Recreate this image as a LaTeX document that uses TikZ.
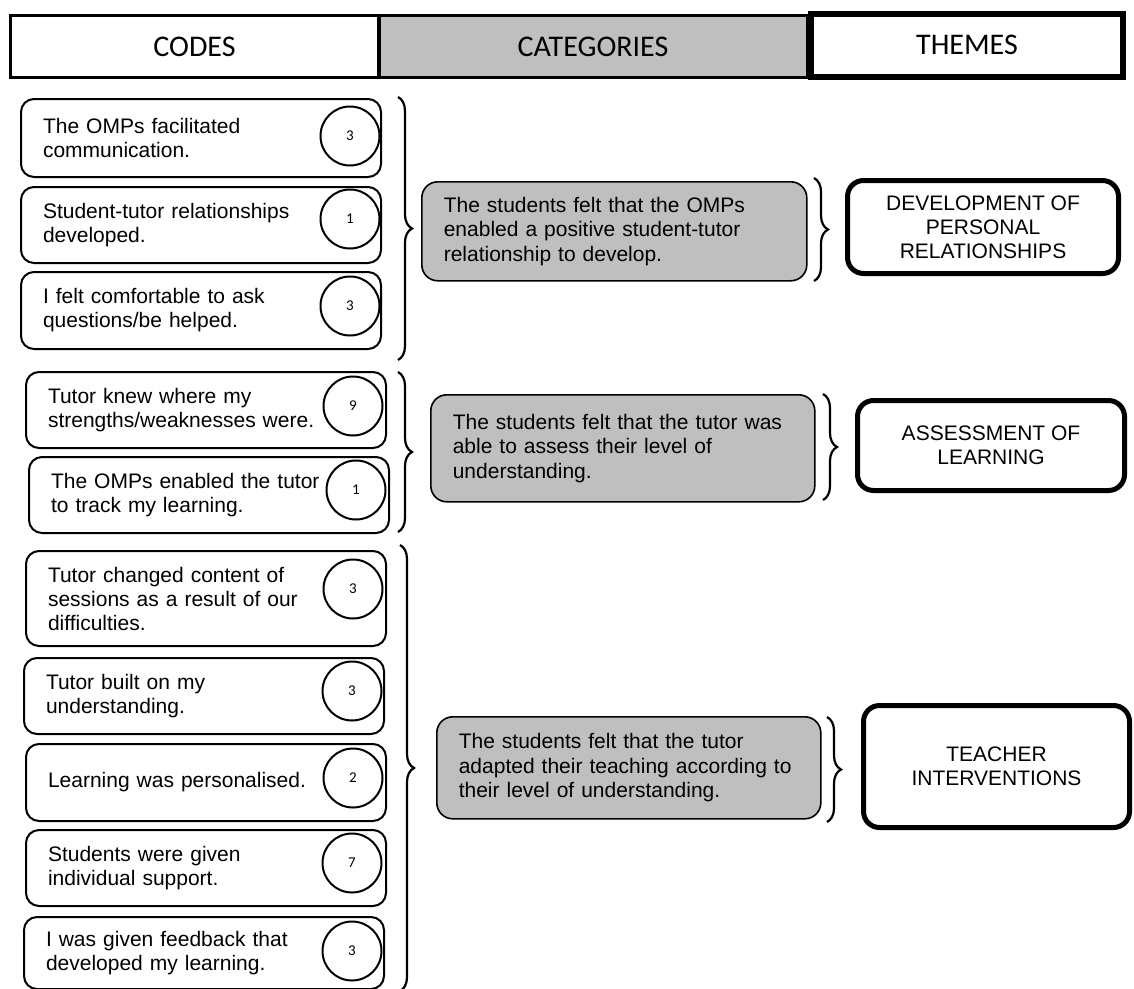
\documentclass[tikz,border=0pt]{standalone}
\usepackage{fontspec}
\setmainfont{Liberation Sans}
\newfontfamily\calib{Carlito}
\usetikzlibrary{decorations.pathreplacing}
\definecolor{catgray}{HTML}{BFBFBF}
\begin{document}
\begin{tikzpicture}[x=1pt,y=-1pt,
  hdr/.style={draw=black, line width=3pt, inner sep=0pt, outer sep=0pt, font=\calib\fontsize{30}{34}\selectfont, anchor=north west},
  code/.style={draw=black, line width=2pt, rounded corners=13pt, align=left, text width=316pt, inner xsep=22pt, inner ysep=0pt, anchor=north west, font=\fontsize{21}{24}\selectfont},
  num/.style={draw=black, line width=2pt, circle, minimum size=59pt, inner sep=0pt, fill=white, font=\calib\fontsize{15}{16}\selectfont},
  cat/.style={draw=black, line width=1.6pt, fill=catgray, rounded corners=16pt, align=left, inner xsep=22pt, inner ysep=0pt, anchor=north west, font=\fontsize{21}{24.5}\selectfont},
  theme/.style={draw=black, line width=5pt, rounded corners=16pt, align=center, inner sep=0pt, anchor=north west, font=\fontsize{21}{24}\selectfont},
  brc/.style={draw=black, line width=2.2pt, decorate, decoration={brace, amplitude=14pt}}
]
\useasboundingbox (0,0) rectangle (1134,988);
\clip (0,0) rectangle (1134,988);
\fill[white] (0,0) rectangle (1134,988);

% header
\node[hdr, fill=white, minimum width=368pt, minimum height=62pt] (hcodes) at (10.5,15.5) {CODES};
\node[hdr, fill=catgray, minimum width=428pt, minimum height=62pt] (hcats) at (379,15.5) {CATEGORIES};
\node[hdr, fill=white, line width=6pt, minimum width=312pt, minimum height=63pt] (hthemes) at (811,14) {\raisebox{1.5pt}{THEMES}};

% codes
\node[code, minimum height=78pt] (c1) at (20,98) {The OMPs facilitated\\communication.};
\node[num] (n1) at (350,136) {3};
\node[code, minimum height=76pt] (c2) at (20,186) {Student-tutor relationships\\developed.};
\node[num] (n2) at (350,219) {1};
\node[code, minimum height=77pt] (c3) at (20,271) {I felt comfortable to ask\\questions/be helped.};
\node[num] (n3) at (350,306) {3};

\node[code, minimum height=76pt] (c4) at (25,371) {Tutor knew where my\\strengths/weaknesses were.};
\node[num] (n4) at (353,406) {9};
\node[code, minimum height=76pt] (c5) at (28,456) {The OMPs enabled the tutor\\to track my learning.};
\node[num] (n5) at (356,490) {1};

\node[code, minimum height=95pt] (c6) at (25,550) {Tutor changed content of\\sessions as a result of our\\difficulties.};
\node[num] (n6) at (353,589) {3};
\node[code, minimum height=76pt] (c7) at (23,657) {Tutor built on my\\understanding.};
\node[num] (n7) at (352,691) {3};
\node[code, minimum height=77pt] (c8) at (25,743) {Learning was personalised.};
\node[num] (n8) at (353,778) {2};
\node[code, minimum height=76pt] (c9) at (25,829) {Students were given\\individual support.};
\node[num] (n9) at (352,863) {7};
\node[code, minimum height=72pt] (c10) at (23,916) {I was given feedback that\\developed my learning.};
\node[num] (n10) at (352,951) {3};

% braces codes -> categories
\coordinate (b1t) at (398,97);  \coordinate (b1b) at (398,360);
\coordinate (b2t) at (398,372); \coordinate (b2b) at (398,532);
\coordinate (b3t) at (400,545); \coordinate (b3b) at (400,991);
\draw[brc] (b1t) -- (b1b);
\draw[brc] (b2t) -- (b2b);
\draw[brc] (b3t) -- (b3b);

% categories
\node[cat, minimum width=385pt, minimum height=99pt, text width=341pt] (k1) at (421,181) {The students felt that the OMPs\\enabled a positive student-tutor\\relationship to develop.};
\node[cat, minimum width=384pt, minimum height=107pt, text width=340pt] (k2) at (430,394) {The students felt that the tutor was\\able to assess their level of\\understanding.};
\node[cat, minimum width=384pt, minimum height=102pt, text width=340pt] (k3) at (436,716) {The students felt that the tutor\\adapted their teaching according to\\their level of understanding.};

% braces categories -> themes
\coordinate (b4t) at (814,178); \coordinate (b4b) at (814,281);
\coordinate (b5t) at (823,394); \coordinate (b5b) at (823,500);
\coordinate (b6t) at (827,717); \coordinate (b6b) at (827,822);
\draw[brc] (b4t) -- (b4b);
\draw[brc] (b5t) -- (b5b);
\draw[brc] (b6t) -- (b6b);

% themes
\node[theme, minimum width=271pt, minimum height=93pt] (th1) at (845,178) {DEVELOPMENT OF\\PERSONAL\\RELATIONSHIPS};
\node[theme, minimum width=267pt, minimum height=90pt] (th2) at (855,398) {ASSESSMENT OF\\LEARNING};
\node[theme, minimum width=266pt, minimum height=122pt] (th3) at (861,703) {TEACHER\\INTERVENTIONS};
\end{tikzpicture}
\end{document}
